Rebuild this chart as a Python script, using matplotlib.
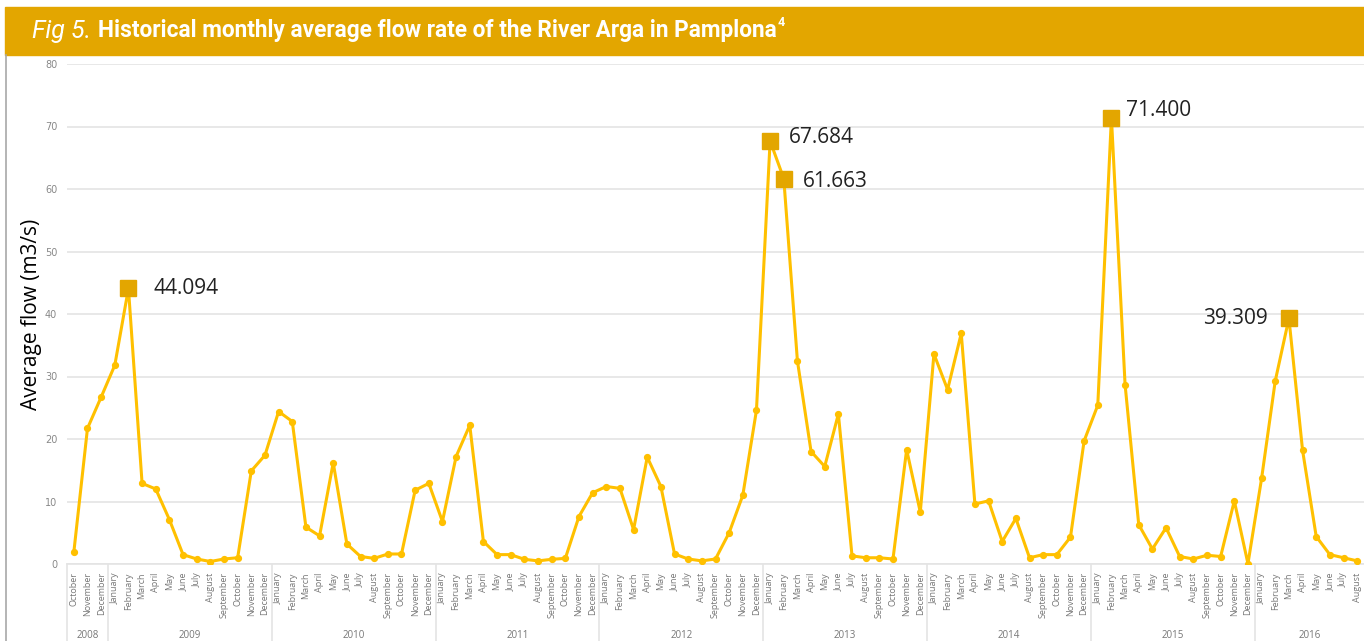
import numpy as np
import matplotlib
matplotlib.use("Agg")
import matplotlib.pyplot as plt
from matplotlib.patches import Rectangle
from matplotlib.lines import Line2D

# Monthly average flow (m3/s), October 2008 .. August 2016
flow_2008 = [1.9, 21.7, 26.7]
flow_2009 = [31.8, 44.094, 12.9, 12.0, 7.1, 1.5, 0.8, 0.4, 0.8, 1.0, 14.9, 17.4]
flow_2010 = [24.4, 22.8, 5.9, 4.5, 16.2, 3.2, 1.2, 0.9, 1.6, 1.6, 11.8, 12.9]
flow_2011 = [6.8, 17.2, 22.2, 3.6, 1.5, 1.5, 0.75, 0.5, 0.75, 0.9, 7.6, 11.4]
flow_2012 = [12.4, 12.1, 5.5, 17.1, 12.4, 1.6, 0.8, 0.5, 0.8, 5.0, 11.0, 24.6]
flow_2013 = [67.684, 61.663, 32.5, 18.0, 15.6, 24.0, 1.3, 1.0, 1.0, 0.8, 18.3, 8.3]
flow_2014 = [33.6, 27.9, 36.9, 9.6, 10.1, 3.6, 7.3, 1.0, 1.5, 1.5, 4.3, 19.7]
flow_2015 = [25.4, 71.4, 28.7, 6.3, 2.4, 5.8, 1.2, 0.8, 1.4, 1.2, 10.1, 0.05]
flow_2016 = [13.7, 29.3, 39.309, 18.2, 4.4, 1.5, 1.0, 0.5]

years = ['2008', '2009', '2010', '2011', '2012', '2013', '2014', '2015', '2016']
months = ['January', 'February', 'March', 'April', 'May', 'June', 'July',
          'August', 'September', 'October', 'November', 'December']
yearly = [flow_2008, flow_2009, flow_2010, flow_2011, flow_2012,
          flow_2013, flow_2014, flow_2015, flow_2016]

# labelled peaks: (year, month)
peaks = [('2009', 'February'), ('2013', 'January'), ('2013', 'February'),
         ('2015', 'February'), ('2016', 'March')]

flow = np.concatenate(yearly)
month_labels = months[9:] + months * 7 + months[:8]
year_of = []
for y, vals in zip(years, yearly):
    year_of += [y] * len(vals)
x = np.arange(len(flow))

LINE = '#FFC000'
GOLD = '#E3A600'

fig = plt.figure(figsize=(13.64, 6.41), dpi=100)
W, H = 1364, 641
ax = fig.add_axes([67 / W, (H - 564) / H, (1364 - 67) / W, 500 / H])

ax.plot(x, flow, color=LINE, lw=2.2, marker='o', ms=4.2, zorder=3)

ax.set_xlim(-0.5, len(flow) - 0.5)
ax.set_ylim(0, 80)
ax.set_yticks(range(0, 81, 10))
ax.yaxis.grid(True, color='#E4E4E4', lw=1.2)
ax.set_axisbelow(True)
for s in ax.spines.values():
    s.set_visible(False)
ax.tick_params(axis='y', length=0, labelsize=7, labelcolor='#888888', pad=7)
ax.set_ylabel('Average flow (m3/s)', fontsize=15, family='Open Sans', labelpad=2)

ax.set_xticks(x)
ax.set_xticklabels(month_labels, rotation=90, fontsize=6.5, color='#777777',
                   family='Open Sans', va='top', ha='center')
ax.tick_params(axis='x', length=0, pad=6)

# year group boxes below the axis
trans = ax.get_xaxis_transform()
ax.plot([0, 1], [0, 0], transform=ax.transAxes, color='#E4E4E4', lw=1.2, clip_on=False)
pos = 0
for y, vals in zip(years, yearly):
    ax.plot([pos - 0.5, pos - 0.5], [0, -0.16], transform=trans, color='#E4E4E4',
            lw=1.2, clip_on=False)
    ax.text(pos + (len(vals) - 1) / 2, -0.142, y, transform=trans, ha='center',
            va='center', fontsize=7, color='#777777', family='Open Sans')
    pos += len(vals)

# highlighted peaks
offsets = [(25, 0, 'left'), (19, 3, 'left'), (19, -3, 'left'),
           (15, 7, 'left'), (-21, 0, 'right')]
for (yr, mo), (dx, dy, ha) in zip(peaks, offsets):
    i = [k for k in x if year_of[k] == yr and month_labels[k] == mo][0]
    ax.plot(x[i], flow[i], marker='s', ms=11, color=GOLD, zorder=4)
    ax.annotate(f'{flow[i]:.3f}', (x[i], flow[i]), xytext=(dx, dy),
                textcoords='offset pixels', ha=ha, va='center', fontsize=15,
                color='#222222', family='Open Sans')

# title banner and frame
fig.patches.append(Rectangle((5 / W, (H - 55) / H), 1 - 5 / W, 48 / H,
                             transform=fig.transFigure, color=GOLD, zorder=0))
fig.lines.append(Line2D([6 / W, 6 / W], [0, (H - 55) / H], transform=fig.transFigure,
                        color='#A8A8A8', lw=1.2))

t1 = fig.text(32 / W, (H - 31) / H, 'Fig 5.', color='white', fontsize=18,
              style='italic', family='Roboto', weight='normal', va='center')
fig.canvas.draw()
r = fig.canvas.get_renderer()
bb = t1.get_window_extent(r)
t2 = fig.text((bb.x1 + 7) / W, (H - 31) / H,
              'Historical monthly average flow rate of the River Arga in Pamplona',
              color='white', fontsize=16, weight='bold', family='Roboto', va='center')
bb2 = t2.get_window_extent(r)
t2.set_fontsize(16 * (780 - bb.x1 - 7) / bb2.width)
bb2 = t2.get_window_extent(r)
fig.text((bb2.x1 + 1) / W, (H - 23) / H, '4', color='white', fontsize=9,
         weight='bold', family='Roboto', va='center')

fig.savefig('out.png', dpi=100)
